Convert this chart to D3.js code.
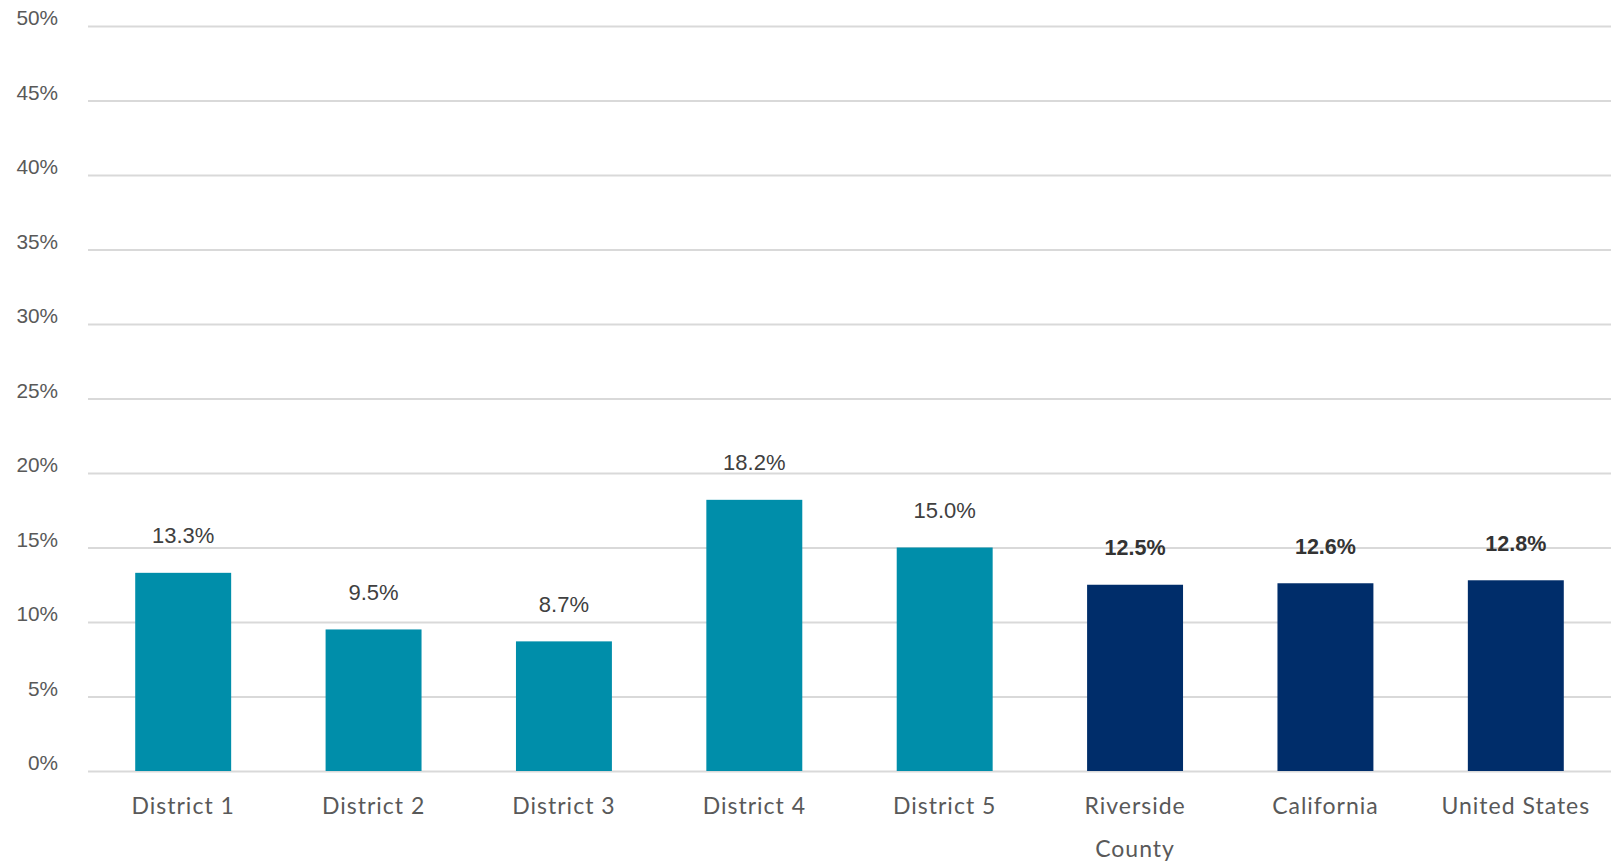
<!DOCTYPE html>
<html>
<head>
<meta charset="utf-8">
<script src="https://cdn.jsdelivr.net/npm/d3@7"></script>
<style>
  body { margin: 0; background: #fff; }
</style>
</head>
<body>
<svg></svg>
<script>
const categories = ["District 1", "District 2", "District 3", "District 4", "District 5", "Riverside County", "California", "United States"];
const values = [13.3, 9.5, 8.7, 18.2, 15.0, 12.5, 12.6, 12.8];
const groups = ["district", "district", "district", "district", "district", "region", "region", "region"];
const yTicks = [0, 5, 10, 15, 20, 25, 30, 35, 40, 45, 50];

const width = 1618;
const height = 862;
const margin = ({top: 26, right: 7, bottom: 91, left: 88});

const color = d3.scaleOrdinal()
    .domain(["district", "region"])
    .range(["#008eaa", "#002d6a"]);

const data = categories.map((c, i) => ({name: c, value: values[i], group: groups[i]}));

const x = d3.scaleBand()
    .domain(categories)
    .range([margin.left, width - margin.right])
    .paddingInner(0.496)
    .paddingOuter(0.248);

const y = d3.scaleLinear()
    .domain([0, 50])
    .range([height - margin.bottom, margin.top]);

const svg = d3.select("svg")
    .attr("width", width)
    .attr("height", height)
    .attr("viewBox", [0, 0, width, height]);

// gridlines + y labels
const yAxis = g => g
    .attr("transform", `translate(${margin.left},0)`)
    .call(d3.axisLeft(y).tickValues(yTicks).tickFormat(d => d + "%")
        .tickSize(-(width - margin.left - margin.right)).tickPadding(30))
    .call(g => g.select(".domain").remove())
    .call(g => g.selectAll(".tick line").attr("stroke", "#d9d9d9").attr("stroke-width", 2))
    .call(g => g.selectAll(".tick text")
        .attr("fill", "#595959")
        .attr("font-family", "'Liberation Sans', Arial, sans-serif")
        .attr("font-size", 20.8)
        .attr("dy", "-0.05em"));

svg.append("g").call(yAxis);

svg.append("g")
  .selectAll("rect")
  .data(data)
  .join("rect")
    .attr("x", d => x(d.name))
    .attr("y", d => y(d.value))
    .attr("width", x.bandwidth())
    .attr("height", d => y(0) - y(d.value))
    .attr("fill", d => color(d.group));

// value labels
svg.append("g")
  .selectAll("text")
  .data(data)
  .join("text")
    .attr("x", d => x(d.name) + x.bandwidth() / 2)
    .attr("y", d => y(d.value) - 29.5)
    .attr("text-anchor", "middle")
    .attr("font-family", "'Liberation Sans', Arial, sans-serif")
    .attr("font-size", d => d.group === "region" ? 21.5 : 22)
    .attr("font-weight", d => d.group === "region" ? "bold" : "normal")
    .attr("fill", d => d.group === "region" ? "#333333" : "#404040")
    .text(d => d.value.toFixed(1) + "%");

// category labels (wrap Riverside County)
const xLabels = svg.append("g")
  .selectAll("text")
  .data(data)
  .join("text")
    .attr("x", d => x(d.name) + x.bandwidth() / 2)
    .attr("y", y(0) + 43)
    .attr("text-anchor", "middle")
    .attr("font-family", "Lato, 'Open Sans', sans-serif")
    .attr("font-size", 23)
    .attr("letter-spacing", 1)
    .attr("fill", "#595959");

xLabels.each(function(d) {
  const words = d.name === "Riverside County" ? ["Riverside", "County"] : [d.name];
  d3.select(this).selectAll("tspan")
    .data(words)
    .join("tspan")
      .attr("x", x(d.name) + x.bandwidth() / 2)
      .attr("dy", (w, i) => i === 0 ? 0 : 43)
      .text(w => w);
});
</script>
</body>
</html>
